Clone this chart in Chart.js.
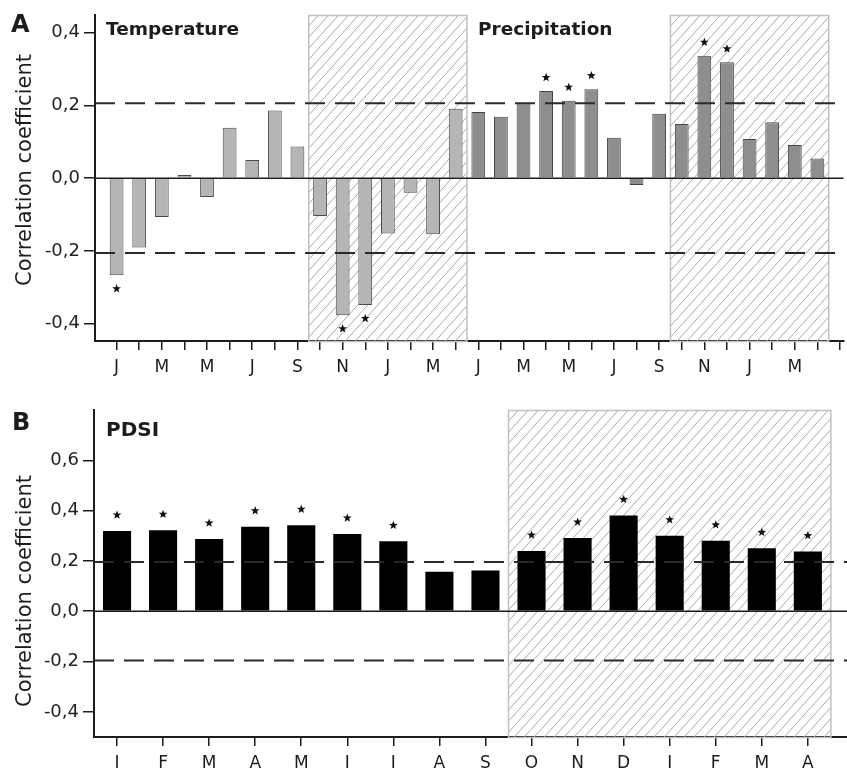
<!DOCTYPE html>
<html>
<head>
<meta charset="utf-8">
<script src="https://cdn.jsdelivr.net/npm/chart.js@4.4.1/dist/chart.umd.min.js"></script>
<style>
  html, body { margin: 0; padding: 0; background: #fff; overflow: hidden; width: 847px; height: 768px; }
  .panel { position: absolute; left: 0; width: 847px; }
  #panelA { top: 0; height: 380px; }
  #panelB { top: 380px; height: 400px; }
</style>
</head>
<body>
<div class="panel" id="panelA"><canvas id="chartA"></canvas></div>
<div class="panel" id="panelB"><canvas id="chartB"></canvas></div>
<script>
// Months from January of the previous year to April of the current year
const months = ['J','F','M','A','M','J','J','A','S','O','N','D','J','F','M','A'];

// Panel A: correlation with monthly temperature and precipitation
const temperature   = [-0.267, -0.191, -0.107, 0.009, -0.052, 0.139, 0.050, 0.186, 0.087,
                       -0.104, -0.377, -0.349, -0.152, -0.040, -0.154, 0.191];
const precipitation = [0.182, 0.169, 0.206, 0.240, 0.213, 0.245, 0.111, -0.019, 0.177,
                       0.149, 0.337, 0.319, 0.108, 0.154, 0.091, 0.054];
const temperatureSig   = [0, 10, 11];
const precipitationSig = [3, 4, 5, 10, 11];

// Panel B: correlation with monthly PDSI
const pdsi    = [0.319, 0.322, 0.287, 0.336, 0.342, 0.307, 0.278, 0.157, 0.162,
                 0.239, 0.291, 0.381, 0.300, 0.280, 0.250, 0.237];
const pdsiSig = [0, 1, 2, 3, 4, 5, 6, 9, 10, 11, 12, 13, 14, 15];

// Significance thresholds (p < 0.05)
const thresholdA = 0.206;
const thresholdB = 0.196;

// Months of the growing-season window (October to April), by month index
const windowMonths = [9, 15];

const yTicksA = [-0.4, -0.2, 0, 0.2, 0.4];
const yTicksB = [-0.4, -0.2, 0, 0.2, 0.4, 0.6];

const INK = '#1c1c1c';
const FONT = 'DejaVu Sans';

function fmt(v) { return v.toFixed(1).replace('.', ','); }

function drawStar(ctx, cx, cy, R) {
  const r = R * 0.42;
  ctx.beginPath();
  for (let k = 0; k < 10; k++) {
    const rad = k % 2 ? r : R;
    const ang = -Math.PI / 2 + k * Math.PI / 5;
    ctx.lineTo(cx + rad * Math.cos(ang), cy + rad * Math.sin(ang));
  }
  ctx.closePath();
  ctx.fill();
}

// Hatched windows, zero line, threshold lines, significance stars and panel texts
const panelDecor = {
  id: 'panelDecor',
  beforeDatasetsDraw(chart, args, o) {
    const { ctx, chartArea: a, scales: { x } } = chart;
    o.windows.forEach(([from, to]) => {
      const l = x.getPixelForValue(from - 0.5);
      const r = x.getPixelForValue(to + 0.5);
      const h = a.bottom - a.top;
      ctx.save();
      ctx.beginPath();
      ctx.rect(l, a.top, r - l, h);
      ctx.clip();
      ctx.strokeStyle = '#a9a9a9';
      ctx.lineWidth = 1;
      ctx.beginPath();
      const run = h * 0.9;
      for (let sx = l - run; sx < r + 10; sx += 10) {
        ctx.moveTo(sx, a.bottom);
        ctx.lineTo(sx + run, a.top);
      }
      ctx.stroke();
      ctx.restore();
      ctx.save();
      ctx.strokeStyle = '#c0c0c0';
      ctx.lineWidth = 1.5;
      ctx.strokeRect(l, a.top + 0.5, r - l, h);
      ctx.restore();
    });
  },
  afterDatasetsDraw(chart, args, o) {
    const { ctx, chartArea: a, scales: { y } } = chart;
    ctx.save();
    // zero line
    ctx.strokeStyle = INK;
    ctx.lineWidth = 1.6;
    ctx.beginPath();
    const y0 = y.getPixelForValue(0);
    ctx.moveTo(a.left, y0);
    ctx.lineTo(a.right, y0);
    ctx.stroke();
    // significance thresholds
    ctx.setLineDash([20, 10]);
    ctx.lineWidth = 2;
    ctx.strokeStyle = '#2a2a2a';
    [o.threshold, -o.threshold].forEach(t => {
      const yy = y.getPixelForValue(t);
      ctx.beginPath();
      ctx.moveTo(a.left, yy);
      ctx.lineTo(a.right, yy);
      ctx.stroke();
    });
    ctx.setLineDash([]);
    // stars
    ctx.fillStyle = '#111';
    o.stars.forEach(({ dataset, indices }) => {
      const meta = chart.getDatasetMeta(dataset);
      indices.forEach(i => {
        const el = meta.data[i];
        const up = el.y < el.base;
        drawStar(ctx, el.x, up ? el.y - o.starGap : el.y + o.starGap, 4.6);
      });
    });
    ctx.restore();
  },
  afterDraw(chart, args, o) {
    const { ctx } = chart;
    ctx.save();
    ctx.fillStyle = INK;
    ctx.textBaseline = 'alphabetic';
    ctx.textAlign = 'left';
    o.texts.forEach(t => {
      ctx.font = t.font;
      ctx.fillText(t.text, t.x, t.y);
    });
    // axis title
    ctx.translate(o.yTitle.x, o.yTitle.y);
    ctx.rotate(-Math.PI / 2);
    ctx.textAlign = 'center';
    ctx.textBaseline = 'middle';
    ctx.font = '21px "' + FONT + '"';
    ctx.fillText('Correlation coefficient', 0, 0);
    ctx.restore();
  }
};

function axisX(min, max, count, label, height) {
  return {
    type: 'linear',
    min, max,
    offset: false,
    bounds: 'data',
    afterBuildTicks: s => { s.ticks = Array.from({ length: count }, (_, i) => ({ value: i })); },
    afterFit: s => { s.height = height; },
    grid: { display: true, drawOnChartArea: false, drawTicks: true, tickLength: 9,
            color: INK, lineWidth: 1.5, offset: false },
    border: { display: true, color: INK, width: 2 },
    ticks: { autoSkip: false, maxRotation: 0, padding: 7, color: INK,
             font: { family: FONT, size: 17 }, callback: v => label(v) }
  };
}

function axisY(min, max, ticks, width) {
  return {
    min, max,
    bounds: 'data',
    afterBuildTicks: s => { s.ticks = ticks.map(v => ({ value: v })); },
    afterFit: s => { s.width = width; },
    grid: { display: true, drawOnChartArea: false, drawTicks: true, tickLength: 11,
            color: INK, lineWidth: 1.5 },
    border: { display: true, color: INK, width: 2 },
    ticks: { padding: 4, color: '#222', font: { family: FONT, size: 18 }, callback: v => fmt(v) }
  };
}

const common = {
  responsive: true,
  maintainAspectRatio: false,
  animation: false,
  devicePixelRatio: 1,
  events: [],
  plugins: { legend: { display: false }, tooltip: { enabled: false } }
};

// Panel A
const labelsA = months.concat(months);
new Chart(document.getElementById('chartA'), {
  type: 'bar',
  data: {
    datasets: [
      { label: 'Temperature', data: temperature.map((v, i) => ({ x: i, y: v })),
        backgroundColor: '#b5b5b5', borderColor: '#4a4a4a', borderWidth: 1,
        grouped: false, categoryPercentage: 1, barPercentage: 0.61 },
      { label: 'Precipitation', data: precipitation.map((v, i) => ({ x: i + months.length, y: v })),
        backgroundColor: '#8e8e8e', borderColor: '#444', borderWidth: 1,
        grouped: false, categoryPercentage: 1, barPercentage: 0.61 }
    ]
  },
  options: Object.assign({}, common, {
    layout: { padding: { top: 15, left: 0, right: 0, bottom: 0 } },
    scales: {
      x: axisX(-0.955, 32.16, 33, v => (v < labelsA.length && v % 2 === 0) ? labelsA[v] : '', 39),
      y: axisY(-0.448, 0.449, yTicksA, 95)
    },
    plugins: Object.assign({}, common.plugins, {
      panelDecor: {
        windows: [windowMonths, windowMonths.map(m => m + months.length)],
        threshold: thresholdA,
        starGap: 13.5,
        stars: [{ dataset: 0, indices: temperatureSig }, { dataset: 1, indices: precipitationSig }],
        yTitle: { x: 26, y: 170 },
        texts: [
          { text: 'A', x: 11, y: 32, font: 'bold 24px "' + FONT + '"' },
          { text: 'Temperature', x: 106, y: 35, font: 'bold 18.5px "' + FONT + '"' },
          { text: 'Precipitation', x: 478, y: 35, font: 'bold 18.5px "' + FONT + '"' }
        ]
      }
    })
  }),
  plugins: [panelDecor]
});

// Panel B
new Chart(document.getElementById('chartB'), {
  type: 'bar',
  data: {
    datasets: [
      { label: 'PDSI', data: pdsi.map((v, i) => ({ x: i, y: v })),
        backgroundColor: '#000', borderWidth: 0,
        grouped: false, categoryPercentage: 1, barPercentage: 0.61 }
    ]
  },
  options: Object.assign({}, common, {
    layout: { padding: { top: 30, left: 0, right: 0, bottom: 0 } },
    scales: {
      x: axisX(-0.5, 15.85, 16, v => months[v] || '', 43),
      y: axisY(-0.5, 0.8, yTicksB, 94)
    },
    plugins: Object.assign({}, common.plugins, {
      panelDecor: {
        windows: [windowMonths],
        threshold: thresholdB,
        starGap: 16,
        stars: [{ dataset: 0, indices: pdsiSig }],
        yTitle: { x: 26, y: 211 },
        texts: [
          { text: 'B', x: 12, y: 50, font: 'bold 24px "' + FONT + '"' },
          { text: 'PDSI', x: 106, y: 56, font: 'bold 20px "' + FONT + '"' }
        ]
      }
    })
  }),
  plugins: [panelDecor]
});
</script>
</body>
</html>
